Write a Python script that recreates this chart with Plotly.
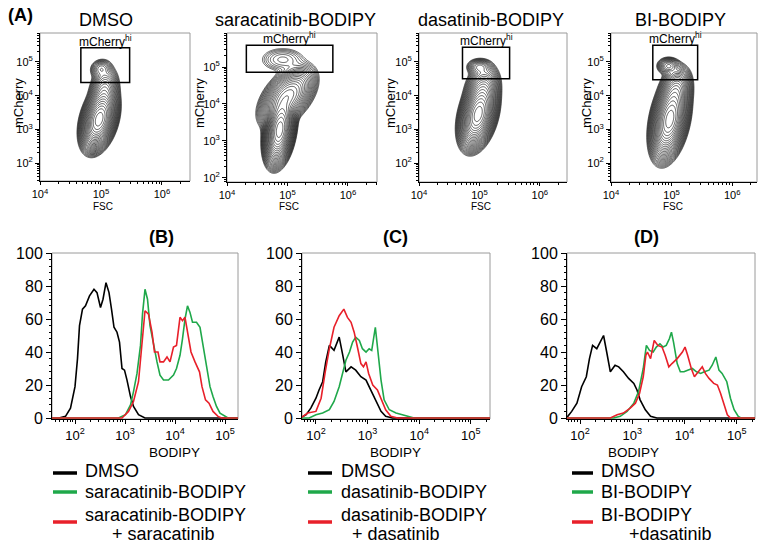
import numpy as np
import plotly.graph_objects as go

W, H = 762, 545
FONT = "Liberation Sans, Arial, Helvetica, sans-serif"

# ---------------- Panel (A): flow cytometry contour populations ----------------
flow_titles = ["DMSO", "saracatinib-BODIPY", "dasatinib-BODIPY", "BI-BODIPY"]
# each population: [log10 FSC centre, log10 mCherry centre, sd x, sd y, correlation, weight]
pops_dmso = [[4.97, 3.30, 0.105, 0.33, 0.35, 1.0],
             [5.05, 4.15, 0.095, 0.28, 0.20, 0.07],
             [5.00, 4.80, 0.080, 0.13, 0.10, 0.008]]
pops_sara = [[4.87, 3.30, 0.090, 0.34, 0.30, 1.0],
             [5.00, 4.20, 0.170, 0.30, 0.50, 0.45],
             [4.92, 5.20, 0.190, 0.17, 0.00, 0.013]]
pops_dasa = [[4.98, 3.45, 0.110, 0.36, 0.35, 1.0],
             [5.05, 4.20, 0.110, 0.28, 0.20, 0.10],
             [5.00, 4.85, 0.090, 0.11, 0.00, 0.010]]
pops_bi = [[4.97, 3.30, 0.110, 0.42, 0.35, 1.0],
           [5.07, 4.15, 0.100, 0.28, 0.20, 0.10],
           [4.95, 4.88, 0.080, 0.11, 0.00, 0.010]]
flow_pops = [pops_dmso, pops_sara, pops_dasa, pops_bi]

# mCherry-hi gates (log10 units)
gate_x0 = [4.67, 4.32, 4.72, 4.69]
gate_x1 = [5.47, 5.75, 5.50, 5.43]
gate_y0 = [4.39, 4.86, 4.50, 4.47]
gate_y1 = [5.42, 5.59, 5.44, 5.50]

# ---------------- Panels (B)-(D): BODIPY histograms (log10 BODIPY, % of max) ----------------
B_dmso_x = [1.50, 1.68, 1.81, 1.91, 2.00, 2.05, 2.09, 2.15, 2.21, 2.29, 2.38, 2.44, 2.51, 2.56, 2.62, 2.68,
            2.73, 2.78, 2.84, 2.89, 2.94, 2.99, 3.04, 3.11, 3.17, 3.27, 3.40, 5.30]
B_dmso_y = [0, 0, 1, 6, 19, 36, 56, 66, 68, 74, 78, 76, 67, 72, 82, 76,
            66, 55, 52, 46, 30, 29, 23, 13, 7, 2, 0, 0]
B_drug_x = [1.50, 2.87, 3.01, 3.11, 3.17, 3.24, 3.31, 3.35, 3.40, 3.45, 3.50, 3.57, 3.64, 3.70, 3.77, 3.87,
            3.97, 4.03, 4.10, 4.15, 4.20, 4.25, 4.30, 4.35, 4.43, 4.50, 4.56, 4.63, 4.70, 4.76, 4.83, 4.90,
            5.00, 5.06, 5.30]
B_drug_y = [0, 0, 2, 8, 16, 27, 44, 63, 78, 72, 56, 44, 34, 26, 23, 23,
            26, 30, 38, 48, 60, 68, 64, 58, 58, 55, 44, 32, 19, 13, 7, 3,
            1, 0, 0]
B_comp_x = [1.50, 2.94, 3.07, 3.17, 3.27, 3.35, 3.40, 3.47, 3.54, 3.59, 3.66, 3.70, 3.77, 3.84, 3.90, 3.97,
            4.03, 4.10, 4.15, 4.20, 4.25, 4.32, 4.40, 4.49, 4.54, 4.61, 4.68, 4.76, 4.86, 4.93, 5.30]
B_comp_y = [0, 0, 4, 10, 22, 48, 65, 63, 52, 40, 40, 34, 34, 37, 34, 43,
            44, 61, 59, 61, 52, 40, 34, 28, 19, 11, 9, 4, 1, 0, 0]

C_dmso_x = [1.70, 1.81, 1.90, 2.00, 2.06, 2.13, 2.19, 2.26, 2.35, 2.45, 2.52, 2.58, 2.68, 2.77, 2.87, 2.97,
            3.06, 3.16, 3.26, 3.35, 3.48, 5.40]
C_dmso_y = [0, 2, 6, 12, 17, 22, 34, 44, 41, 49, 38, 28, 31, 29, 25, 23,
            17, 10, 4, 1, 0, 0]
C_drug_x = [1.70, 1.87, 2.00, 2.13, 2.26, 2.35, 2.45, 2.58, 2.65, 2.71, 2.77, 2.84, 2.90, 2.97, 3.03, 3.08,
            3.15, 3.21, 3.26, 3.32, 3.42, 3.55, 3.68, 3.81, 3.90, 5.40]
C_drug_y = [0, 0, 2, 3, 5, 10, 19, 35, 40, 46, 49, 47, 42, 40, 42, 41,
            55, 38, 23, 11, 5, 3, 2, 1, 0, 0]
C_comp_x = [1.70, 1.84, 2.00, 2.10, 2.18, 2.26, 2.35, 2.45, 2.54, 2.61, 2.68, 2.74, 2.81, 2.87, 2.92, 2.97,
            3.02, 3.10, 3.19, 3.29, 3.35, 3.45, 3.58, 5.40]
C_comp_y = [0, 3, 4, 12, 28, 42, 55, 62, 66, 61, 58, 52, 42, 33, 31, 34,
            27, 20, 17, 10, 5, 1, 0, 0]

D_dmso_x = [1.70, 1.74, 1.84, 1.94, 2.03, 2.12, 2.18, 2.24, 2.32, 2.38, 2.45, 2.51, 2.58, 2.67, 2.74, 2.83,
            2.93, 3.03, 3.09, 3.15, 3.25, 3.35, 3.47, 5.40]
D_dmso_y = [0, 0, 4, 9, 19, 25, 36, 44, 42, 46, 50, 40, 28, 32, 31, 28,
            24, 21, 17, 11, 5, 1, 0, 0]
D_drug_x = [1.70, 2.64, 2.77, 2.90, 3.03, 3.12, 3.21, 3.27, 3.33, 3.40, 3.46, 3.53, 3.59, 3.65, 3.71, 3.75,
            3.79, 3.86, 3.92, 3.99, 4.06, 4.15, 4.23, 4.31, 4.38, 4.47, 4.53, 4.60, 4.66, 4.72, 4.81, 4.88,
            4.95, 5.03, 5.08, 5.40]
D_drug_y = [0, 0, 1, 4, 9, 16, 30, 44, 41, 40, 43, 45, 43, 44, 48, 52,
            46, 33, 28, 28, 29, 30, 28, 27, 28, 29, 32, 37, 29, 27, 22, 12,
            5, 1, 0, 0]
D_comp_x = [1.70, 2.58, 2.71, 2.83, 2.96, 3.06, 3.14, 3.21, 3.26, 3.29, 3.35, 3.42, 3.49, 3.57, 3.63, 3.70,
            3.76, 3.86, 3.96, 4.01, 4.06, 4.13, 4.19, 4.26, 4.34, 4.40, 4.47, 4.56, 4.63, 4.69, 4.76, 4.82,
            4.88, 5.40]
D_comp_y = [0, 0, 2, 3, 6, 9, 15, 25, 38, 40, 36, 47, 44, 43, 38, 31,
            33, 36, 40, 43, 38, 30, 25, 28, 31, 27, 24, 21, 20, 15, 8, 2,
            0, 0]

hist_panels = [
    dict(label="(B)", xs=[B_dmso_x, B_drug_x, B_comp_x], ys=[B_dmso_y, B_drug_y, B_comp_y],
         legend=["DMSO", "saracatinib-BODIPY", "saracatinib-BODIPY", "+ saracatinib"]),
    dict(label="(C)", xs=[C_dmso_x, C_drug_x, C_comp_x], ys=[C_dmso_y, C_drug_y, C_comp_y],
         legend=["DMSO", "dasatinib-BODIPY", "dasatinib-BODIPY", "+ dasatinib"]),
    dict(label="(D)", xs=[D_dmso_x, D_drug_x, D_comp_x], ys=[D_dmso_y, D_drug_y, D_comp_y],
         legend=["DMSO", "BI-BODIPY", "BI-BODIPY", "+dasatinib"]),
]
series_colors = ["#000000", "#1fa84a", "#e8202a"]

# ---------------- layout geometry (pixels) ----------------
top_boxes = [(40, 190, 33, 181), (227, 377, 33, 182), (419, 567, 33, 182), (611, 757, 33, 182)]
top_xrange = [[4.0, 6.46], [4.0, 6.48], [4.0, 6.45], [4.0, 6.41]]
top_yrange = [[1.47, 5.86], [1.89, 5.92], [1.44, 5.86], [1.44, 5.86]]
bot_boxes = [(52, 238, 253, 419), (302, 490, 253, 419), (567, 755, 253, 419)]
bot_xrange = [[1.54, 5.26], [1.73, 5.37], [1.75, 5.35]]

title_cx = [106, 295, 491, 680]
mcherry_cx = [18, 199, 390, 586]
hist_label_cx = [147, 395, 661]
legend_line_x = [(53, 77), (308, 332), (572, 593)]
legend_text_x = [83, 339, 599]
legend_second_x = [110, 350, 627]


def px(x):
    return x / W


def py(y):
    return 1 - y / H


def sup(n):
    return "10<sup>%d</sup>" % n


def log_minor(lo, hi):
    return [k * 10 ** n for n in range(lo, hi) for k in range(2, 10)]


def frac(v, rng):
    return (v - rng[0]) / (rng[1] - rng[0])


fig = go.Figure()
shapes = []
annotations = []
layout_axes = {}

black = "#000000"
frame_grey = "#9a9a9a"

# ---------- top contour panels ----------
gx = np.linspace(3.9, 6.6, 160)
gy = np.linspace(1.2, 6.1, 230)
GX, GY = np.meshgrid(gx, gy)
for i in range(4):
    n = i + 1
    xa = "x" if n == 1 else "x%d" % n
    ya = "y" if n == 1 else "y%d" % n
    dens = np.zeros_like(GX)
    for cx, cy, sx, sy, rho, w in flow_pops[i]:
        u = (GX - cx) / sx
        v = (GY - cy) / sy
        q = (u * u - 2 * rho * u * v + v * v) / (1 - rho * rho)
        dens += w / (sx * sy * np.sqrt(1 - rho * rho)) * np.exp(-0.5 * q)
    zl = np.log10(dens / dens.max() + 1e-12)
    fig.add_trace(go.Contour(
        x=10 ** gx, y=10 ** gy, z=zl, xaxis=xa, yaxis=ya,
        contours=dict(coloring="none", start=-2.6, end=-0.05, size=0.105, showlabels=False),
        line=dict(color="#1a1a1a", width=0.7, smoothing=1.0),
        showscale=False, hoverinfo="skip"))
    x0, x1, y0, y1 = top_boxes[i]
    axkey = "xaxis" if n == 1 else "xaxis%d" % n
    aykey = "yaxis" if n == 1 else "yaxis%d" % n
    layout_axes[axkey] = dict(
        domain=[px(x0), px(x1)], anchor=ya, type="log", range=top_xrange[i], automargin=False,
        tickvals=[1e4, 1e5, 1e6], ticktext=[sup(4), sup(5), sup(6)],
        ticks="outside", ticklen=3, tickcolor=black, showline=True, linecolor=black,
        showgrid=False, zeroline=False, tickfont=dict(size=11, color=black, family=FONT),
        minor=dict(tickvals=log_minor(4, 7), ticks="outside", ticklen=2, tickcolor=black, showgrid=False))
    layout_axes[aykey] = dict(
        domain=[py(y1), py(y0)], anchor=xa, type="log", range=top_yrange[i], automargin=False,
        tickvals=[1e2, 1e3, 1e4, 1e5], ticktext=[sup(2), sup(3), sup(4), sup(5)],
        ticks="outside", ticklen=4, tickcolor=black, showline=True, linecolor=black,
        showgrid=False, zeroline=False, tickfont=dict(size=11, color=black, family=FONT),
        minor=dict(tickvals=log_minor(1, 6), ticks="outside", ticklen=2, tickcolor=black, showgrid=False))
    dom = "x domain" if n == 1 else "x%d domain" % n
    ydom = "y domain" if n == 1 else "y%d domain" % n
    shapes.append(dict(type="rect", xref=dom, yref=ydom, x0=0, x1=1, y0=0, y1=1,
                       line=dict(color=frame_grey, width=1), layer="below"))
    # gate (placed through the axis ranges)
    shapes.append(dict(type="rect", xref=dom, yref=ydom,
                       x0=frac(gate_x0[i], top_xrange[i]), x1=frac(gate_x1[i], top_xrange[i]),
                       y0=frac(gate_y0[i], top_yrange[i]), y1=frac(gate_y1[i], top_yrange[i]),
                       line=dict(color=black, width=1.5), layer="above"))
    annotations.append(dict(xref=dom, yref=ydom,
                            x=frac((gate_x0[i] + gate_x1[i]) / 2, top_xrange[i]),
                            y=frac(gate_y1[i], top_yrange[i]),
                            text="mCherry<sup>hi</sup>", showarrow=False, yanchor="bottom",
                            font=dict(size=12, family=FONT, color=black), yshift=-3))
    annotations.append(dict(xref="paper", yref="paper", x=px(title_cx[i]), y=py(20),
                            text=flow_titles[i], showarrow=False, xanchor="center", yanchor="middle",
                            font=dict(size=18, family=FONT, color=black)))
    annotations.append(dict(xref="paper", yref="paper", x=px(mcherry_cx[i]), y=py(103),
                            text="mCherry", showarrow=False, textangle=-90, xanchor="center",
                            yanchor="middle", font=dict(size=13, family=FONT, color=black)))
    annotations.append(dict(xref=dom, yref="paper", x=frac(5.03, top_xrange[i]), y=py(206),
                            text="FSC", showarrow=False, xanchor="center", yanchor="middle",
                            font=dict(size=10, family=FONT, color=black)))

annotations.append(dict(xref="paper", yref="paper", x=px(20), y=py(15), text="<b>(A)</b>",
                        showarrow=False, xanchor="center", yanchor="middle",
                        font=dict(size=18, family=FONT, color=black)))

# ---------- bottom histogram panels ----------
for j, panel in enumerate(hist_panels):
    n = j + 5
    xa, ya = "x%d" % n, "y%d" % n
    for k in range(3):
        fig.add_trace(go.Scatter(
            x=[10 ** v for v in panel["xs"][k]], y=panel["ys"][k], mode="lines",
            line=dict(color=series_colors[k], width=1.6, shape="linear"),
            xaxis=xa, yaxis=ya, showlegend=False, hoverinfo="skip"))
    x0, x1, y0, y1 = bot_boxes[j]
    layout_axes["xaxis%d" % n] = dict(
        domain=[px(x0), px(x1)], anchor=ya, type="log", range=bot_xrange[j], automargin=False,
        tickvals=[1e2, 1e3, 1e4, 1e5], ticktext=[sup(2), sup(3), sup(4), sup(5)],
        ticks="outside", ticklen=4, tickcolor=black, showline=True, linecolor=black,
        showgrid=False, zeroline=False, tickfont=dict(size=13, color=black, family=FONT),
        minor=dict(tickvals=log_minor(1, 6), ticks="outside", ticklen=2, tickcolor=black, showgrid=False))
    layout_axes["yaxis%d" % n] = dict(
        domain=[py(y1), py(y0)], anchor=xa, range=[-0.6, 100], automargin=False,
        tickvals=[0, 20, 40, 60, 80, 100], ticks="outside", ticklen=5, tickcolor=black,
        showline=True, linecolor=black, showgrid=False, zeroline=False,
        tickfont=dict(size=16, color=black, family=FONT),
        minor=dict(tickvals=[v for v in range(4, 100, 4) if v % 20], ticks="outside", ticklen=2,
                   tickcolor=black, showgrid=False))
    shapes.append(dict(type="rect", xref="x%d domain" % n, yref="y%d domain" % n, x0=0, x1=1, y0=0, y1=1,
                       line=dict(color=frame_grey, width=1), layer="below"))
    cx = hist_label_cx[j]
    annotations.append(dict(xref="paper", yref="paper", x=px(cx), y=py(237),
                            text="<b>%s</b>" % panel["label"], showarrow=False, yanchor="middle",
                            font=dict(size=18, family=FONT, color=black)))
    annotations.append(dict(xref="paper", yref="paper", x=px(cx), y=py(452), text="BODIPY",
                            showarrow=False, yanchor="middle",
                            font=dict(size=13.5, family=FONT, color=black)))
    # legend
    lx0, lx1 = legend_line_x[j]
    line_y = [473, 492, 522]
    for k in range(3):
        shapes.append(dict(type="line", xref="paper", yref="paper", x0=px(lx0), x1=px(lx1),
                           y0=py(line_y[k]), y1=py(line_y[k]),
                           line=dict(color=series_colors[k], width=3.5)))
    txt_y = [471, 492, 515]
    for k in range(3):
        annotations.append(dict(xref="paper", yref="paper", x=px(legend_text_x[j]), y=py(txt_y[k]),
                                text=panel["legend"][k], showarrow=False, xanchor="left",
                                yanchor="middle", font=dict(size=18, family=FONT, color=black)))
    annotations.append(dict(xref="paper", yref="paper", x=px(legend_second_x[j]), y=py(534),
                            text=panel["legend"][3], showarrow=False, xanchor="left",
                            yanchor="middle", font=dict(size=18, family=FONT, color=black)))

fig.update_layout(
    width=W, height=H, margin=dict(l=0, r=0, t=0, b=0, autoexpand=False),
    paper_bgcolor="white", plot_bgcolor="white", showlegend=False,
    font=dict(family=FONT, color=black),
    shapes=shapes, annotations=annotations, **layout_axes)

fig.write_html("out.html", config={"displayModeBar": False},
               post_script="document.body.style.margin='0';document.body.style.overflow='hidden';")
